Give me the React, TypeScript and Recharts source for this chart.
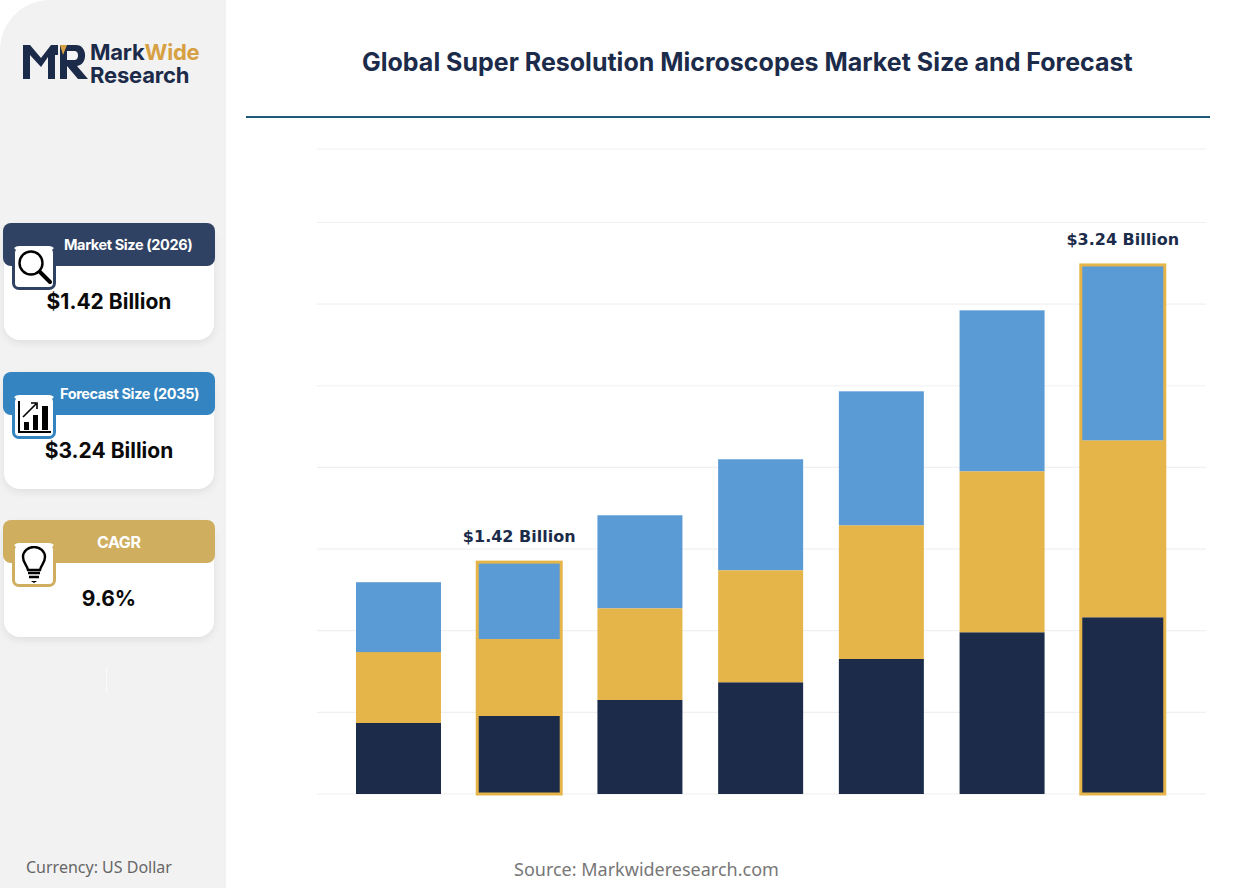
import React from "react";
import { BarChart, Bar, XAxis, YAxis, CartesianGrid, LabelList } from "recharts";

const years = ["2025", "2026", "2028", "2030", "2032", "2034", "2035"];
const baseSeg = [0.435, 0.477, 0.575, 0.685, 0.826, 0.991, 1.083];
const midSeg = [0.434, 0.472, 0.563, 0.686, 0.82, 0.986, 1.083];
const topSeg = [0.428, 0.471, 0.569, 0.679, 0.82, 0.985, 1.074];
const yTicks = [0, 0.5, 1, 1.5, 2, 2.5, 3, 3.5];
const yTickLabels = ["0B", "0B", "1B", "2B", "2B", "2B", "3B", "4B"];
const highlightLabels: Record<string, string> = { "2026": "$1.42 Billion", "2035": "$3.24 Billion" };

const rows = years.map((year, i) => ({
  year,
  base: baseSeg[i],
  mid: midSeg[i],
  top: topSeg[i],
  total: baseSeg[i] + midSeg[i] + topSeg[i],
}));

const NAVY = "#1c2b4a";
const GOLD = "#e6b54a";
const BLUE = "#5b9bd5";
const DEJAVU = "'DejaVu Sans', sans-serif";
const HEAD = "Inter, 'Open Sans', sans-serif";

function TopShape(props: any) {
  const { x, y, width, height, payload } = props;
  const hl = highlightLabels[payload.year];
  const fullH = height * (payload.total / payload.top);
  return (
    <g>
      <rect x={x} y={y} width={width} height={height} fill={BLUE} />
      {hl ? (
        <rect x={x + 0.5} y={y} width={width - 1} height={fullH} fill="none" stroke={GOLD} strokeWidth={3} />
      ) : null}
    </g>
  );
}

function HighlightLabel(props: any) {
  const { x, y, width, index } = props;
  const text = highlightLabels[years[index]];
  if (!text) return null;
  return (
    <text x={x + width / 2} y={y - 20} textAnchor="middle" fill={NAVY} fontFamily={DEJAVU} fontWeight={700} fontSize={16}>
      {text}
    </text>
  );
}

function Card(p: { top: number; color: string; title: string; titleX: number; value: string; titleSize: number; icon: React.ReactNode }) {
  return (
    <div style={{ position: "absolute", left: 4, top: p.top, width: 210, height: 117 }}>
      <div style={{ position: "absolute", left: 0, top: 0, width: 210, height: 117, background: "#fff", borderRadius: 16, boxShadow: "0 3px 8px rgba(0,0,0,0.08)" }} />
      <div style={{ position: "absolute", left: -1, top: 0, width: 212, height: 43, background: p.color, borderRadius: "8px 8px 8px 8px" }} />
      <div style={{ position: "absolute", left: p.titleX, top: 0, height: 43, lineHeight: "44px", color: "#fff", fontFamily: HEAD, fontWeight: 700, fontSize: p.titleSize, whiteSpace: "nowrap", letterSpacing: -0.4 }}>
        {p.title}
      </div>
      <div style={{ position: "absolute", left: 8, top: 23, width: 38, height: 38, background: "#fff", border: `3px solid ${p.color}`, borderTopColor: "transparent", borderRightColor: p.color, borderRadius: 7, boxSizing: "content-box" }}>
        {p.icon}
      </div>
      <div style={{ position: "absolute", left: 0, width: 210, top: 66, textAlign: "center", fontFamily: "Inter, sans-serif", fontWeight: 700, fontSize: 21, color: "#0a0a0a" }}>
        {p.value}
      </div>
    </div>
  );
}

const SearchIcon = (
  <svg width="38" height="38" viewBox="0 0 38 38">
    <circle cx="16" cy="14" r="11.5" fill="none" stroke="#000" strokeWidth="2.4" />
    <line x1="25" y1="23" x2="35" y2="33" stroke="#000" strokeWidth="4" strokeLinecap="round" />
  </svg>
);
const ChartIcon = (
  <svg width="38" height="38" viewBox="0 0 38 38">
    <path d="M4 3V34H36" fill="none" stroke="#000" strokeWidth="2" />
    <rect x="9" y="24" width="5" height="8" fill="#000" />
    <rect x="18" y="17" width="5" height="15" fill="#000" />
    <rect x="27" y="8" width="6" height="24" fill="#000" />
    <path d="M8 19L21 6M16 5H22V11" fill="none" stroke="#000" strokeWidth="1.6" />
  </svg>
);
const BulbIcon = (
  <svg width="38" height="38" viewBox="0 0 38 38">
    <path d="M13 24C12 19 8 17 8 11A11 10 0 0 1 30 11C30 17 26 19 25 24Z" fill="none" stroke="#000" strokeWidth="2.4" />
    <path d="M13 27H25M14 31H24" stroke="#000" strokeWidth="2.4" />
    <path d="M16 35H22L19 37Z" fill="#000" />
  </svg>
);

const LogoMark = (
  <svg width="72" height="38" viewBox="0 0 72 38" style={{ position: "absolute", left: 22, top: 43 }}>
    <path d="M1 36V2H8L19 15L29 2H36V12L33 12V36H26V14L19 24L8 12V36Z" fill={NAVY} />
    <path d="M8 36V24L14 18L19 25L26 18L33 25V36" fill="none" stroke={NAVY} strokeWidth="0" />
    <path d="M38 2H54C66 2 66 22 55 23L66 36H56L45 23V36H38Z" fill={NAVY} />
    <path d="M45 8H53C57 8 57 17 53 17H45Z" fill="#fff" opacity="0.95" />
    <path d="M38 2H45L41 12Z" fill="#d6a043" />
  </svg>
);

export default function App() {
  return (
    <div style={{ position: "absolute", left: 0, top: 0, width: 1257, height: 888, background: "#fff", overflow: "hidden" }}>
      <div style={{ position: "absolute", left: 0, top: 0, width: 226, height: 888, background: "#f2f2f2", borderTopLeftRadius: 50 }} />
      {LogoMark}
      <div style={{ position: "absolute", left: 90, top: 41, fontFamily: "Inter, sans-serif", fontWeight: 700, fontSize: 22, lineHeight: "23px", color: NAVY, letterSpacing: -0.2 }}>
        <div>Mark<span style={{ color: "#d6a043" }}>Wide</span></div>
        <div>Research</div>
      </div>

      <Card top={223} color="#2f4263" title="Market Size (2026)" titleX={60} titleSize={14.5} value="$1.42 Billion" icon={SearchIcon} />
      <Card top={372} color="#3384c0" title="Forecast Size (2035)" titleX={56} titleSize={14.5} value="$3.24 Billion" icon={ChartIcon} />
      <Card top={520} color="#cfae5f" title="CAGR" titleX={93} titleSize={16} value="9.6%" icon={BulbIcon} />
      <div style={{ position: "absolute", left: 106, top: 668, width: 1, height: 24, background: "#fafafa" }} />

      <div style={{ position: "absolute", left: 26, top: 856, fontFamily: "'Noto Sans', sans-serif", fontSize: 16, color: "#666", lineHeight: "22px" }}>Currency: US Dollar</div>
      <div style={{ position: "absolute", left: 514, top: 856, fontFamily: "'Noto Sans', sans-serif", fontSize: 18, color: "#777", lineHeight: "26px" }}>Source: Markwideresearch.com</div>

      <div style={{ position: "absolute", left: 362, top: 44, fontFamily: HEAD, fontWeight: 700, fontSize: 25, lineHeight: "36px", color: NAVY, whiteSpace: "nowrap" }}>
        Global Super Resolution Microscopes Market Size and Forecast
      </div>
      <div style={{ position: "absolute", left: 246, top: 116, width: 964, height: 2, background: "#1f5a7a" }} />

      <div style={{ position: "absolute", left: 0, top: 0 }}>
        <BarChart
          width={1257}
          height={888}
          data={rows}
          margin={{ top: 149, right: 51, bottom: 94, left: 317 }}
          barCategoryGap={0}
        >
          <CartesianGrid horizontal vertical={false} stroke="#f0f0f0" strokeWidth={1.2} />
          <XAxis
            dataKey="year"
            height={0}
            axisLine={{ stroke: "#d9d9d9" }}
            tickLine={false}
            padding={{ left: 21, right: 23 }}
            interval={0}
            tick={{ fill: "#222", fontFamily: DEJAVU, fontWeight: 700, fontSize: 14.5 }}
            tickMargin={6}
          />
          <YAxis
            width={0}
            domain={[0, 3.95]}
            ticks={yTicks}
            tickFormatter={(v: number) => yTickLabels[yTicks.indexOf(v)]}
            axisLine={{ stroke: "#d9d9d9" }}
            tickLine={{ stroke: "#888" }}
            tickSize={5}
            tickMargin={7}
            tick={{ fill: "#555", fontFamily: DEJAVU, fontSize: 12 }}
          />
          <Bar dataKey="base" stackId="s" fill={NAVY} barSize={85} isAnimationActive={false} />
          <Bar dataKey="mid" stackId="s" fill={GOLD} barSize={85} isAnimationActive={false} />
          <Bar dataKey="top" stackId="s" fill={BLUE} barSize={85} isAnimationActive={false} shape={TopShape}>
            <LabelList dataKey="top" content={HighlightLabel} />
          </Bar>
        </BarChart>
      </div>
    </div>
  );
}
